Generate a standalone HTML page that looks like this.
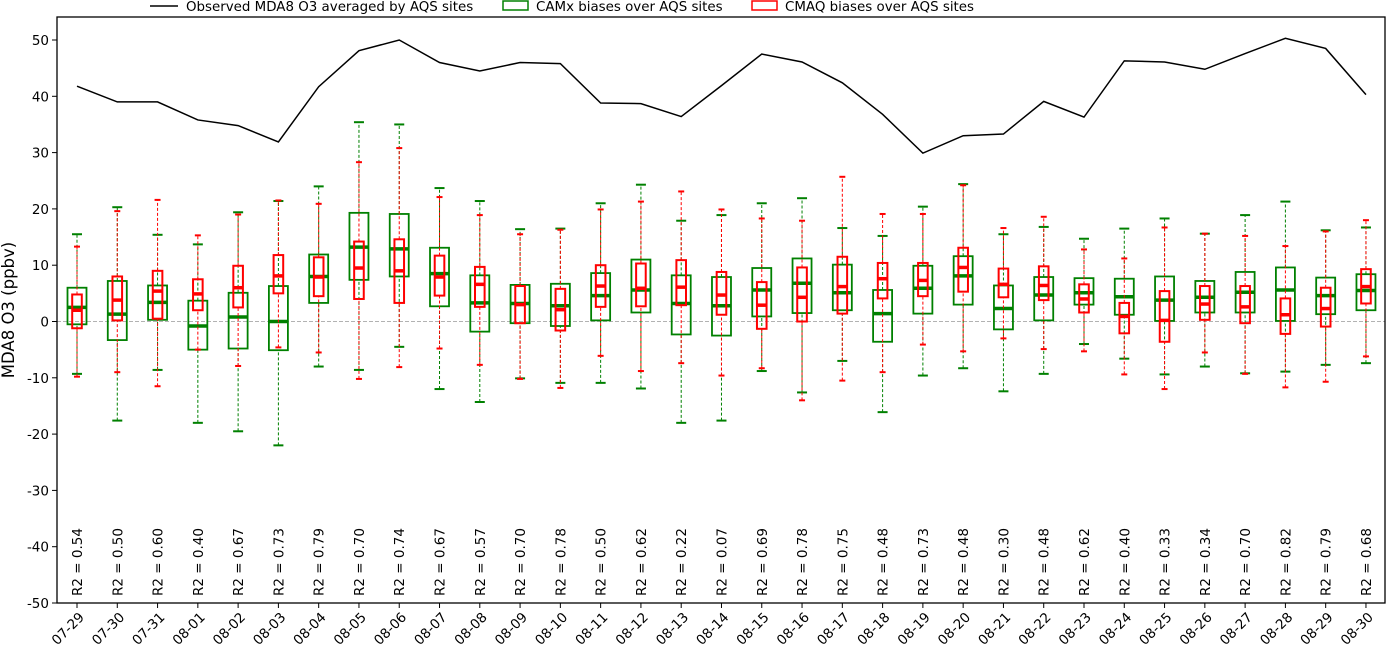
<!DOCTYPE html>
<html><head><meta charset="utf-8"><style>
html,body{margin:0;padding:0;background:#fff;}
svg{display:block;font-family:"DejaVu Sans","Liberation Sans",sans-serif;}
</style></head><body>
<svg id="s" width="1389" height="649" xmlns="http://www.w3.org/2000/svg"></svg>
<script>
const s=document.getElementById('s');
const L=57,R=1385,T=17,B=603;
const Y=v=>321.5-v*5.63;
const X=i=>77+i*40.28;
const dates=["07-29","07-30","07-31","08-01","08-02","08-03","08-04","08-05","08-06","08-07","08-08","08-09","08-10","08-11","08-12","08-13","08-14","08-15","08-16","08-17","08-18","08-19","08-20","08-21","08-22","08-23","08-24","08-25","08-26","08-27","08-28","08-29","08-30"];
const r2=["0.54","0.50","0.60","0.40","0.67","0.73","0.79","0.70","0.74","0.67","0.57","0.70","0.78","0.50","0.62","0.22","0.07","0.69","0.78","0.75","0.48","0.73","0.48","0.30","0.48","0.62","0.40","0.33","0.34","0.70","0.82","0.79","0.68"];
const obs=[41.8,39,39,35.8,34.8,31.9,41.7,48.1,50,46,44.5,46,45.8,38.8,38.7,36.4,41.9,47.5,46.1,42.4,36.8,29.9,33,33.3,39.1,36.3,46.3,46.1,44.8,47.6,50.3,48.5,40.3];
const G=[[-9.3,-0.5,2.5,6,15.5],[-17.6,-3.3,1.3,7.2,20.3],[-8.6,0.3,3.4,6.4,15.4],[-18,-5,-0.8,3.7,13.7],[-19.5,-4.8,0.8,5.1,19.4],[-22,-5.1,0,6.3,21.4],[-8,3.3,8,11.9,24],[-8.6,7.4,13.2,19.3,35.4],[-4.5,8,12.9,19.1,35],[-12,2.7,8.5,13.1,23.7],[-14.3,-1.8,3.3,8.2,21.4],[-10.1,-0.3,3.2,6.5,16.4],[-10.9,-0.8,2.8,6.7,16.5],[-10.9,0.2,4.6,8.6,21],[-11.9,1.6,5.6,11,24.3],[-18,-2.3,3.2,8.2,17.9],[-17.6,-2.5,2.8,7.9,18.9],[-8.8,0.9,5.6,9.5,21],[-12.6,1.5,6.8,11.2,21.9],[-7,2,5.1,10.1,16.6],[-16.1,-3.6,1.4,5.6,15.2],[-9.6,1.4,5.9,9.9,20.4],[-8.3,3,8.1,11.6,24.4],[-12.4,-1.4,2.3,6.4,15.5],[-9.3,0.2,4.7,7.9,16.8],[-4,3,5.1,7.7,14.7],[-6.6,1.2,4.4,7.6,16.5],[-9.4,0.1,3.8,8,18.3],[-8,1.6,4.3,7.2,15.6],[-9.2,1.6,5.2,8.8,18.9],[-8.9,0.1,5.6,9.6,21.3],[-7.7,1.3,4.6,7.8,16.2],[-7.4,2,5.5,8.4,16.7]];
const Rd=[[-9.8,-1.2,2,4.8,13.3],[-9,0.2,3.8,8,19.6],[-11.5,0.5,5.4,9,21.6],[-5,2,4.9,7.5,15.3],[-7.9,2.5,6,9.9,19],[-4.6,5,8.1,11.8,21.5],[-5.5,4.5,7.9,11.4,20.9],[-10.2,4,9.5,14.2,28.3],[-8.1,3.3,9,14.6,30.8],[-4.8,4.6,7.9,11.7,22.1],[-7.7,2.6,6.6,9.7,18.9],[-10.2,-0.3,3,6.3,15.5],[-11.8,-1.6,2.1,5.8,16.3],[-6.1,2.6,6.3,10,19.9],[-8.8,2.7,5.9,10.3,21.3],[-7.4,2.9,6.1,10.9,23.1],[-9.6,1.2,4.7,8.8,19.9],[-8.3,-1.3,2.9,7,18.3],[-14,0,4.3,9.6,17.9],[-10.5,1.4,6.2,11.5,25.7],[-9,4.1,7.6,10.4,19.1],[-4.1,4.5,7.3,10.4,19.1],[-5.3,5.3,9.6,13.1,24.2],[-3,4.3,6.6,9.4,16.6],[-4.9,3.8,6.4,9.8,18.6],[-5.3,1.6,4,6.6,12.8],[-9.4,-2.1,0.9,3.3,11.2],[-12,-3.6,0.2,5.4,16.7],[-5.5,0.3,3.1,6.3,15.6],[-9.3,-0.3,2.6,6.3,15.2],[-11.7,-2.2,1.2,4.1,13.4],[-10.7,-0.9,2.3,6,16],[-6.2,3.2,6.2,9.3,18]];
let h='';
h+=`<line x1="${L}" x2="${R}" y1="${Y(0)}" y2="${Y(0)}" stroke="#999" stroke-width="0.8" stroke-dasharray="4,2"/>`;
function box(i,d,c,hw,cw,lw){const x=X(i);
 let o=`<line x1="${x}" x2="${x}" y1="${Y(d[0])}" y2="${Y(d[1])}" stroke="${c}" stroke-width="1" stroke-dasharray="3,2"/>`;
 o+=`<line x1="${x}" x2="${x}" y1="${Y(d[3])}" y2="${Y(d[4])}" stroke="${c}" stroke-width="1" stroke-dasharray="3,2"/>`;
 o+=`<line x1="${x-cw}" x2="${x+cw}" y1="${Y(d[0])}" y2="${Y(d[0])}" stroke="${c}" stroke-width="2"/>`;
 o+=`<line x1="${x-cw}" x2="${x+cw}" y1="${Y(d[4])}" y2="${Y(d[4])}" stroke="${c}" stroke-width="2"/>`;
 o+=`<rect x="${x-hw}" y="${Y(d[3])}" width="${2*hw}" height="${Y(d[1])-Y(d[3])}" fill="none" stroke="${c}" stroke-width="${lw}"/>`;
 o+=`<line x1="${x-hw}" x2="${x+hw}" y1="${Y(d[2])}" y2="${Y(d[2])}" stroke="${c}" stroke-width="3.5"/>`;
 return o;}
for(let i=0;i<33;i++){h+=box(i,G[i],"#008000",9.5,5,1.8);}
for(let i=0;i<33;i++){h+=box(i,Rd[i],"#ff0000",4.8,3,2);}
h+=`<polyline fill="none" stroke="#000" stroke-width="1.5" points="${obs.map((v,i)=>X(i)+','+Y(v)).join(' ')}"/>`;
for(let i=0;i<33;i++){const x=X(i)+5;h+=`<text x="${x}" y="596" transform="rotate(-90 ${x} 596)" font-size="13.5">R2 = ${r2[i]}</text>`;
 h+=`<line x1="${X(i)}" x2="${X(i)}" y1="${B}" y2="${B+5}" stroke="#000" stroke-width="1"/>`;
 const tx=X(i)+8,ty=B+15;h+=`<text x="${tx}" y="${ty}" transform="rotate(-45 ${tx} ${ty})" text-anchor="end" font-size="13.5">${dates[i]}</text>`;}
for(let v=-50;v<=50;v+=10){const y=Y(v);h+=`<line x1="${L-5}" x2="${L}" y1="${y}" y2="${y}" stroke="#000"/><text x="${L-8}" y="${y+5}" text-anchor="end" font-size="13.5">${v}</text>`;}
h+=`<rect x="${L}" y="${T}" width="${R-L}" height="${B-T}" fill="none" stroke="#000" stroke-width="1.3"/>`;
h+=`<text x="14" y="310" transform="rotate(-90 14 310)" text-anchor="middle" font-size="16.5">MDA8 O3 (ppbv)</text>`;
h+=`<line x1="150" x2="178" y1="6" y2="6" stroke="#000" stroke-width="1.5"/><text x="186" y="11" font-size="13.4">Observed MDA8 O3 averaged by AQS sites</text>`;
h+=`<rect x="503" y="1" width="25" height="9" fill="none" stroke="#008000" stroke-width="1.5"/><text x="536" y="11" font-size="13.4">CAMx biases over AQS sites</text>`;
h+=`<rect x="752" y="1" width="25" height="9" fill="none" stroke="#ff0000" stroke-width="1.5"/><text x="785" y="11" font-size="13.4">CMAQ biases over AQS sites</text>`;
s.innerHTML=h;
</script>
</body></html>
